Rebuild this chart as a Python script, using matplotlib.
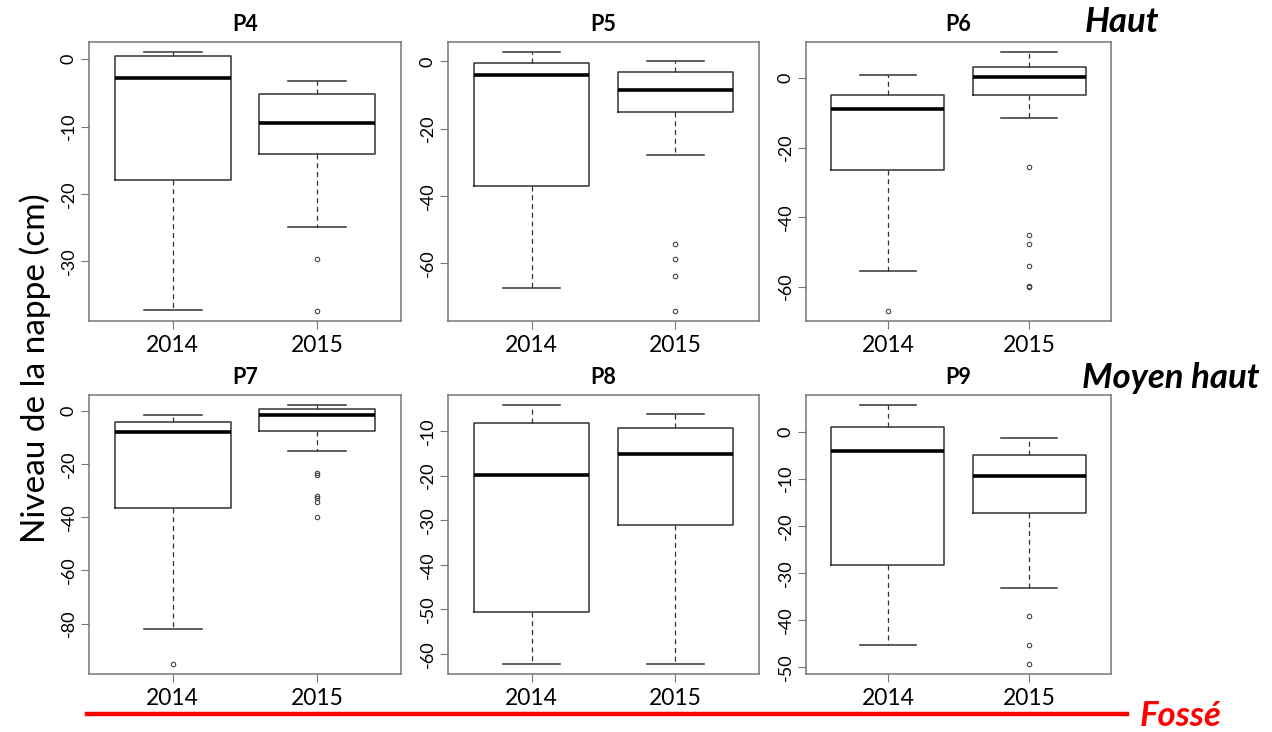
import matplotlib
matplotlib.use("Agg")
import matplotlib.pyplot as plt
from matplotlib.ticker import MultipleLocator

plt.rcParams['font.family'] = ['Lato', 'DejaVu Sans']
plt.rcParams['axes.unicode_minus'] = False

# Données (niveau de la nappe, cm)
panels = ['P4', 'P5', 'P6', 'P7', 'P8', 'P9']
years = ['2014', '2015']

whislo_2014 = [-37.2, -67.5, -55.4, -81.9, -62.2, -45.3]
q1_2014 = [-17.9, -37.0, -26.5, -36.5, -50.6, -28.4]
med_2014 = [-2.8, -4.0, -9.0, -8.0, -19.85, -4.1]
q3_2014 = [0.4, -0.4, -4.8, -4.4, -8.2, 1.1]
whishi_2014 = [1.0, 2.7, 0.9, -1.75, -4.25, 5.6]
fliers_2014 = [[], [], [-66.9], [-95.0], [], []]

whislo_2015 = [-24.9, -27.9, -11.6, -15.1, -62.2, -33.3]
q1_2015 = [-14.0, -15.1, -4.9, -7.6, -31.2, -17.3]
med_2015 = [-9.5, -8.6, 0.2, -1.6, -15.2, -9.5]
q3_2015 = [-5.2, -3.1, 3.2, 0.75, -9.4, -4.9]
whishi_2015 = [-3.3, 0.0, 7.4, 2.0, -6.3, -1.4]
fliers_2015 = [[-29.6, -37.3],
               [-54.2, -58.8, -63.7, -74.1],
               [-25.6, -45.2, -47.7, -54.0, -59.7, -60.2],
               [-23.4, -24.0, -32.1, -32.75, -34.4, -40.0],
               [],
               [-39.1, -45.3, -49.3]]

tick_step = [10, 20, 20, 20, 10, 10]

W, H = 1272, 732
fig = plt.figure(figsize=(W / 100, H / 100), dpi=100)

# positions des cadres en pixels (gauche, haut, largeur, hauteur)
lefts = [89, 448, 806]
widths = [312, 311, 305]
tops = [42, 395]
height = 279

frame_col = '#777777'

for i, name in enumerate(panels):
    r, c = divmod(i, 3)
    ax = fig.add_axes([lefts[c] / W, 1 - (tops[r] + height) / H, widths[c] / W, height / H])

    stats = []
    for lo, q1, med, q3, hi, fl in [
        (whislo_2014[i], q1_2014[i], med_2014[i], q3_2014[i], whishi_2014[i], fliers_2014[i]),
        (whislo_2015[i], q1_2015[i], med_2015[i], q3_2015[i], whishi_2015[i], fliers_2015[i]),
    ]:
        stats.append(dict(whislo=lo, q1=q1, med=med, q3=q3, whishi=hi, fliers=fl))

    ax.bxp(stats, positions=[1, 2], widths=0.8, showfliers=True,
           boxprops=dict(color='#333333', linewidth=1.1),
           medianprops=dict(color='black', linewidth=2.6),
           whiskerprops=dict(color='#333333', linewidth=0.9, linestyle=(0, (4, 3))),
           capprops=dict(color='#333333', linewidth=1.1),
           capwidths=0.4,
           flierprops=dict(marker='o', markersize=3.2, markerfacecolor='none',
                           markeredgecolor='#444444', markeredgewidth=0.8))

    allv = [whislo_2014[i], whishi_2014[i], whislo_2015[i], whishi_2015[i]] + fliers_2014[i] + fliers_2015[i]
    lo, hi = min(allv), max(allv)
    pad = 0.04 * (hi - lo)
    ax.set_ylim(lo - pad, hi + pad)
    ax.set_xlim(0.42, 2.58)

    ax.yaxis.set_major_locator(MultipleLocator(tick_step[i]))
    ax.set_xticks([1, 2])
    ax.set_xticklabels(years, fontsize=16.5)
    for lab in ax.get_yticklabels():
        lab.set_rotation(90)
        lab.set_va('center')
    ax.tick_params(axis='y', labelsize=13, length=6, color=frame_col, pad=3)
    ax.tick_params(axis='x', length=6, color=frame_col, pad=4)
    for s in ax.spines.values():
        s.set_color(frame_col)
        s.set_linewidth(1.1)

    ax.set_title(name, fontsize=15.5, fontweight='bold', pad=8)

fig.text(35 / W, 1 - 368 / H, 'Niveau de la nappe (cm)', rotation=90,
         fontsize=24, ha='center', va='center')
fig.text(1122 / W, 1 - 22 / H, 'Haut', fontsize=25, fontweight='bold',
         style='italic', ha='center', va='center')
fig.text(1171 / W, 1 - 378 / H, 'Moyen haut', fontsize=25, fontweight='bold',
         style='italic', ha='center', va='center')

# ligne du fossé
fig.add_artist(plt.Line2D([87 / W, 1127 / W], [1 - 714 / H, 1 - 714 / H],
                          color='#ff0000', linewidth=3.2))
fig.text(1181 / W, 1 - 716 / H, 'Fossé', color='#ff0000', fontsize=25,
         fontweight='bold', style='italic', ha='center', va='center')

fig.savefig('out.png', dpi=100, facecolor='white')
